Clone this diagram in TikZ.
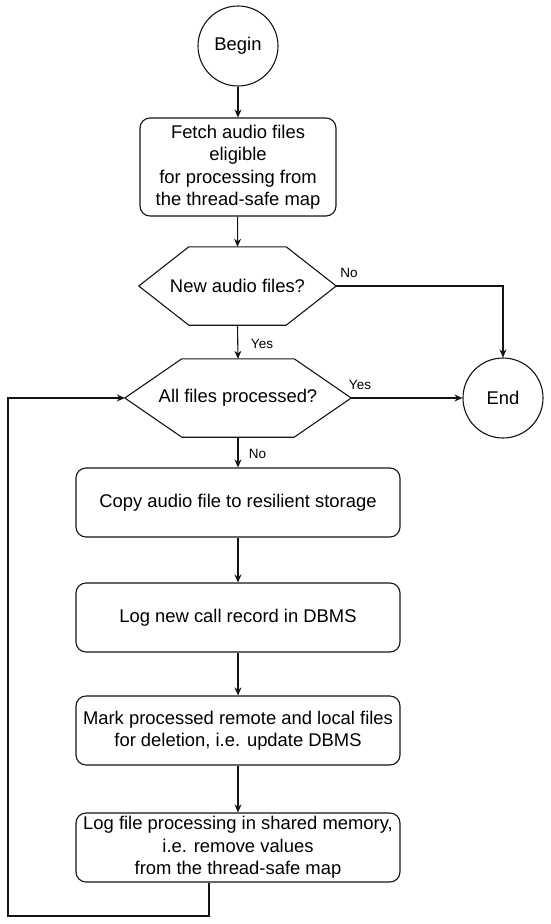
\documentclass[tikz,border=0pt]{standalone}
\usepackage{fontspec}
\setmainfont{Liberation Sans}
\usetikzlibrary{arrows.meta,calc}
\definecolor{flowline}{RGB}{20,20,20}
\tikzset{
  termnode/.style={circle,draw=flowline,line width=1.1pt,minimum size=80pt,
    inner sep=0pt,font=\fontsize{18.4}{22}\selectfont},
  procbox/.style={rectangle,rounded corners=10pt,draw=flowline,line width=1.1pt,
    minimum width=324pt,minimum height=69pt,align=center,
    font=\fontsize{18.4}{22.5}\selectfont},
  decision/.style={rectangle,minimum height=78pt,inner sep=0pt,
    font=\fontsize{18.4}{22}\selectfont},
  hexline/.style={draw=flowline,line width=1.1pt,line join=miter},
  flowarrow/.style={draw=flowline,line width=1.1pt,
    -{Stealth[length=8pt,width=7pt]}},
  flowline/.style={draw=flowline,line width=1.1pt},
  branchlabel/.style={font=\fontsize{13.5}{16}\selectfont,inner sep=0pt},
}

\begin{document}
\begin{tikzpicture}[x=1pt,y=-1pt]
\useasboundingbox (0,0) rectangle (550,924);
% nodes
\node[termnode] (begin) at (238,46) {Begin};
\node[procbox,minimum width=196pt,minimum height=98pt] (fetch) at (238,167)
  {Fetch audio files\\eligible\\for processing from\\the thread-safe map};
\node[decision,minimum width=197pt] (newfiles) at (237.5,286) {New audio files?};
\node[decision,minimum width=226pt] (allproc) at (238,398) {All files processed?};
\node[termnode] (end) at (503,398) {End};
\node[procbox] (copy) at (238,502.5) {Copy audio file to resilient storage};
\node[procbox] (logcall) at (238,617.5) {Log new call record in DBMS};
\node[procbox] (mark) at (238,730.5)
  {Mark processed remote and local files\\for deletion, i.e. update DBMS};
\node[procbox] (logfile) at (238,847.5)
  {Log file processing in shared memory,\\i.e. remove values\\from the thread-safe map};
% hexagon outlines
\draw[hexline] (newfiles.west) -- ([xshift=50pt]newfiles.north west)
  -- ([xshift=-50pt]newfiles.north east) -- (newfiles.east)
  -- ([xshift=-50pt]newfiles.south east) -- ([xshift=50pt]newfiles.south west) -- cycle;
\draw[hexline] (allproc.west) -- ([xshift=57pt]allproc.north west)
  -- ([xshift=-57pt]allproc.north east) -- (allproc.east)
  -- ([xshift=-57pt]allproc.south east) -- ([xshift=57pt]allproc.south west) -- cycle;
% connectors
\draw[flowarrow] (begin) -- (fetch);
\draw[flowarrow] (fetch) -- (newfiles.north);
\draw[flowarrow] (newfiles.south) -- (allproc.north);
\draw[flowarrow] (newfiles.east) -| (end.north);
\draw[flowarrow] (allproc.east) -- (end.west);
\draw[flowarrow] (allproc.south) -- (copy);
\draw[flowarrow] (copy) -- (logcall);
\draw[flowarrow] (logcall) -- (mark);
\draw[flowarrow] (mark) -- (logfile);
\coordinate (loopdown) at (209,916);
\coordinate (loopleft) at (8,916);
\draw[flowarrow] (logfile.south -| loopdown) -- (loopdown) -- (loopleft)
  |- (allproc.west);
% branch labels
\node[branchlabel] (newno) at (349,273) {No};
\node[branchlabel] (newyes) at (262,344) {Yes};
\node[branchlabel] (allyes) at (360,385) {Yes};
\node[branchlabel] (allno) at (257.5,454) {No};
\end{tikzpicture}
\end{document}
